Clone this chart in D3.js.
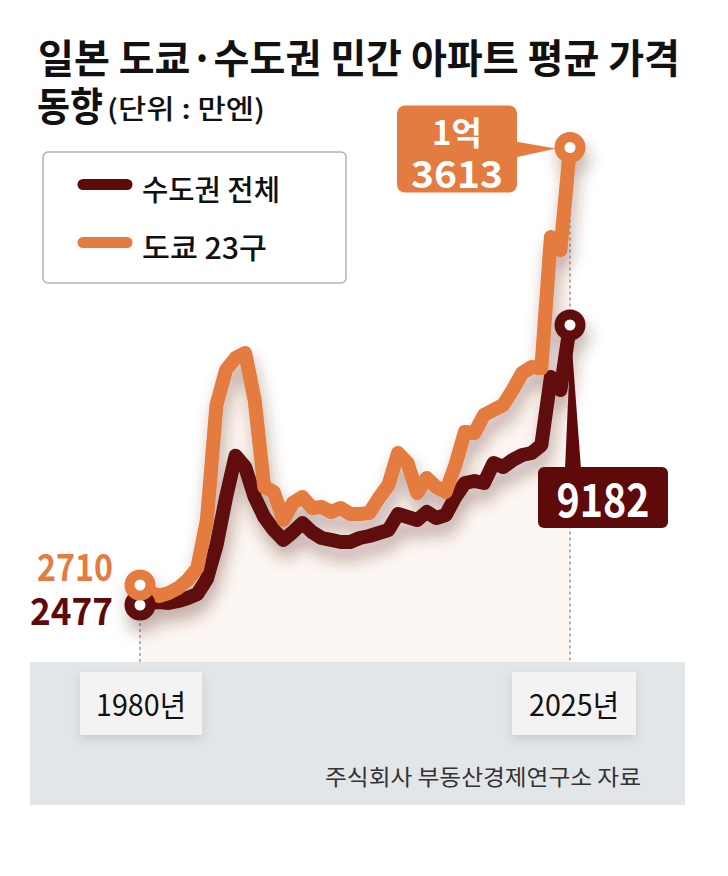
<!DOCTYPE html>
<html>
<head>
<meta charset="utf-8">
<script src="https://cdn.jsdelivr.net/npm/d3@7"></script>
<style>
  html, body { margin: 0; padding: 0; background: #fff; }
  svg { display: block; font-family: "Noto Sans CJK KR", "Noto Sans", sans-serif; }
</style>
</head>
<body>
<script>
const width = 728,
	height = 876,
	darkColor = '#5f0a0a',
	orangeColor = '#e47b41';

// years 1980 ~ 2025
const years = d3.range(1980, 2026);

// 수도권 전체 (만엔)
const capitalArea = [
	2477, 2525, 2549, 2525, 2573, 2645, 2740, 3100, 3900, 5050,
	6050, 5782, 5063, 4584, 4273, 4034, 4225, 4441, 4225, 4081,
	4034, 3986, 3986, 4081, 4129, 4201, 4273, 4656, 4584, 4512,
	4704, 4560, 4632, 5063, 5398, 5446, 5398, 5877, 5782, 5949,
	6069, 6117, 6308, 7937, 7625, 9182
];

// 도쿄 23구 (만엔)
const tokyo23 = [
	2710, 2536, 2436, 2511, 2635, 2835, 3134, 4330, 7196, 8068,
	8367, 8492, 7320, 5152, 5028, 4330, 4753, 4903, 4629, 4654,
	4529, 4629, 4479, 4479, 4504, 4878, 5202, 6000, 5750, 5003,
	5377, 5152, 5028, 5700, 6523, 6498, 6947, 7071, 7196, 7570,
	7993, 8143, 8110, 11382, 11058, 13613
];

const seriesNames = ['수도권 전체', '도쿄 23구'];
const yearLabels = [1980, 2025];

let svg = d3.select('body').append('svg')
	.attr('width', width)
	.attr('height', height);

let defs = svg.append('defs');
let lineShadow = defs.append('filter').attr('id', 'lineShadow')
	.attr('x', '-20%').attr('y', '-20%').attr('width', '140%').attr('height', '170%');
lineShadow.append('feDropShadow')
	.attr('dx', 3).attr('dy', 12).attr('stdDeviation', 8)
	.attr('flood-color', '#5a2a20').attr('flood-opacity', 0.36);
let boxShadow = defs.append('filter').attr('id', 'boxShadow')
	.attr('x', '-30%').attr('y', '-30%').attr('width', '160%').attr('height', '180%');
boxShadow.append('feDropShadow')
	.attr('dx', 0).attr('dy', 4).attr('stdDeviation', 5)
	.attr('flood-color', '#3a3f48').attr('flood-opacity', 0.16);

let x = d3.scaleLinear().domain([1980, 2025]).range([140, 570]);
// the original graphic draws the two series on slightly different baselines
let yDark = d3.scaleLinear().domain([2477, 9182]).range([605, 325]);
let yOrange = d3.scaleLinear().domain([2710, 13613]).range([585, 147.5]);

const bandTop = 662;

// ****************** Title ***************************
svg.append('text')
	.attr('x', 38).attr('y', 73)
	.attr('font-size', 40).attr('font-weight', 700).attr('fill', '#111')
	.attr('textLength', 642).attr('lengthAdjust', 'spacingAndGlyphs')
	.text('일본 도쿄·수도권 민간 아파트 평균 가격');
svg.append('text')
	.attr('x', 37).attr('y', 121)
	.attr('font-size', 40).attr('font-weight', 700).attr('fill', '#111')
	.attr('textLength', 66).attr('lengthAdjust', 'spacingAndGlyphs')
	.text('동향');
svg.append('text')
	.attr('x', 107).attr('y', 119)
	.attr('font-size', 27).attr('font-weight', 500).attr('fill', '#111')
	.attr('textLength', 158).attr('lengthAdjust', 'spacingAndGlyphs')
	.text('(단위 : 만엔)');

// ****************** Legend ***************************
let legend = svg.append('g');
legend.append('rect')
	.attr('x', 43).attr('y', 152).attr('width', 303).attr('height', 131).attr('rx', 5)
	.attr('fill', '#fff').attr('stroke', '#bcb0a6').attr('stroke-width', 1.5);
[darkColor, orangeColor].forEach((c, i) => {
	let ly = 184.5 + i * 58;
	legend.append('line')
		.attr('x1', 83).attr('x2', 127).attr('y1', ly).attr('y2', ly)
		.attr('stroke', c).attr('stroke-width', 11).attr('stroke-linecap', 'round');
	legend.append('text')
		.attr('x', 142).attr('y', ly + 16.5)
		.attr('font-size', 29).attr('font-weight', 500).attr('fill', '#111')
		.attr('textLength', i == 0 ? 138 : 125).attr('lengthAdjust', 'spacingAndGlyphs')
		.text(seriesNames[i]);
});

// ****************** Area + guides ***************************
let areaUnder = d3.area()
	.x((d, i) => x(years[i]))
	.y0(bandTop)
	.y1(d => yOrange(d));
svg.append('path')
	.attr('d', areaUnder(tokyo23))
	.attr('fill', '#fdf7f3');

// dashed guides
svg.append('line')
	.attr('x1', x(1980)).attr('x2', x(1980))
	.attr('y1', yDark(capitalArea[0])).attr('y2', bandTop)
	.attr('stroke', '#9a9a9a').attr('stroke-width', 1.5).attr('stroke-dasharray', '3,3');
svg.append('line')
	.attr('x1', x(2025)).attr('x2', x(2025))
	.attr('y1', yOrange(tokyo23[tokyo23.length - 1])).attr('y2', bandTop)
	.attr('stroke', '#9a9a9a').attr('stroke-width', 1.5).attr('stroke-dasharray', '3,3');

// ****************** Bottom band ***************************
svg.append('rect')
	.attr('x', 30).attr('y', bandTop).attr('width', 655).attr('height', 143)
	.attr('fill', '#e3e6e9');

yearLabels.forEach((yr, i) => {
	let cx = x(yr) + (i == 0 ? 1 : 4);
	let w = i == 0 ? 122 : 124;
	svg.append('rect')
		.attr('x', cx - w / 2).attr('y', 672).attr('width', w).attr('height', 63)
		.attr('fill', '#f3f3f4').attr('filter', 'url(#boxShadow)');
	svg.append('text')
		.attr('x', cx).attr('y', 716)
		.attr('text-anchor', 'middle')
		.attr('font-size', 30).attr('font-weight', 400).attr('fill', '#111')
		.attr('textLength', 90).attr('lengthAdjust', 'spacingAndGlyphs')
		.text(yr + '년');
});

svg.append('text')
	.attr('x', 641).attr('y', 785)
	.attr('text-anchor', 'end')
	.attr('font-size', 22).attr('font-weight', 400).attr('fill', '#333')
	.attr('textLength', 316).attr('lengthAdjust', 'spacingAndGlyphs')
	.text('주식회사 부동산경제연구소 자료');

// ****************** Lines ***************************
let lines = svg.append('g').attr('filter', 'url(#lineShadow)');

let darkLine = d3.line().x((d, i) => x(years[i])).y(d => yDark(d));
let orangeLine = d3.line().x((d, i) => x(years[i])).y(d => yOrange(d));

lines.append('path')
	.attr('d', darkLine(capitalArea))
	.attr('fill', 'none').attr('stroke', darkColor).attr('stroke-width', 14)
	.attr('stroke-linejoin', 'round').attr('stroke-linecap', 'round');
lines.append('path')
	.attr('d', orangeLine(tokyo23))
	.attr('fill', 'none').attr('stroke', orangeColor).attr('stroke-width', 14)
	.attr('stroke-linejoin', 'round').attr('stroke-linecap', 'round');

let last = years.length - 1;
let endPoints = [
	{ cx: x(years[0]), cy: yDark(capitalArea[0]), c: darkColor },
	{ cx: x(years[last]), cy: yDark(capitalArea[last]), c: darkColor },
	{ cx: x(years[0]), cy: yOrange(tokyo23[0]), c: orangeColor },
	{ cx: x(years[last]), cy: yOrange(tokyo23[last]), c: orangeColor }
];
lines.selectAll('circle.end')
	.data(endPoints)
	.enter().append('circle')
	.attr('class', 'end')
	.attr('cx', d => d.cx).attr('cy', d => d.cy)
	.attr('r', 10.5)
	.attr('fill', '#fff').attr('stroke', d => d.c).attr('stroke-width', 10);

// ****************** Value labels ***************************
// start values
svg.append('text')
	.attr('x', 113).attr('y', yOrange(tokyo23[0]) - 4)
	.attr('text-anchor', 'end')
	.attr('font-size', 37).attr('font-weight', 700).attr('fill', orangeColor)
	.attr('textLength', 76).attr('lengthAdjust', 'spacingAndGlyphs')
	.text(d3.format('d')(tokyo23[0]));
svg.append('text')
	.attr('x', 113).attr('y', yDark(capitalArea[0]) + 20)
	.attr('text-anchor', 'end')
	.attr('font-size', 38).attr('font-weight', 700).attr('fill', darkColor)
	.attr('textLength', 83).attr('lengthAdjust', 'spacingAndGlyphs')
	.text(d3.format('d')(capitalArea[0]));

// 도쿄 23구 end box
let oy = yOrange(tokyo23[last]),
	ox = x(years[last]);
let oLast = tokyo23[last];
svg.append('path')
	.attr('d', 'M' + (ox - 55) + ',' + (oy - 6) + 'L' + (ox - 14) + ',' + (oy + 1) + 'L' + (ox - 55) + ',' + (oy + 10) + 'Z')
	.attr('fill', orangeColor);
svg.append('rect')
	.attr('x', ox - 173).attr('y', oy - 42).attr('width', 120).attr('height', 87).attr('rx', 8)
	.attr('fill', orangeColor);
svg.append('text')
	.attr('x', ox - 113).attr('y', oy - 3)
	.attr('text-anchor', 'middle')
	.attr('font-size', 33).attr('font-weight', 700).attr('fill', '#fff')
	.text(Math.floor(oLast / 10000) + '억');
svg.append('text')
	.attr('x', ox - 113).attr('y', oy + 40)
	.attr('text-anchor', 'middle')
	.attr('font-size', 38).attr('font-weight', 700).attr('fill', '#fff')
	.attr('textLength', 92).attr('lengthAdjust', 'spacingAndGlyphs')
	.text(oLast % 10000);

// 수도권 전체 end box
let dy = yDark(capitalArea[last]),
	dx = x(years[last]);
svg.append('path')
	.attr('d', 'M' + (dx + 1) + ',' + (dy + 10) + 'L' + (dx + 11) + ',' + (dy + 144) + 'L' + (dx - 5) + ',' + (dy + 144) + 'Z')
	.attr('fill', darkColor);
svg.append('rect')
	.attr('x', dx - 32).attr('y', dy + 142).attr('width', 130).attr('height', 61).attr('rx', 6)
	.attr('fill', darkColor);
svg.append('text')
	.attr('x', dx + 33).attr('y', dy + 192)
	.attr('text-anchor', 'middle')
	.attr('font-size', 46).attr('font-weight', 700).attr('fill', '#fff')
	.attr('textLength', 93).attr('lengthAdjust', 'spacingAndGlyphs')
	.text(capitalArea[last]);
</script>
</body>
</html>
